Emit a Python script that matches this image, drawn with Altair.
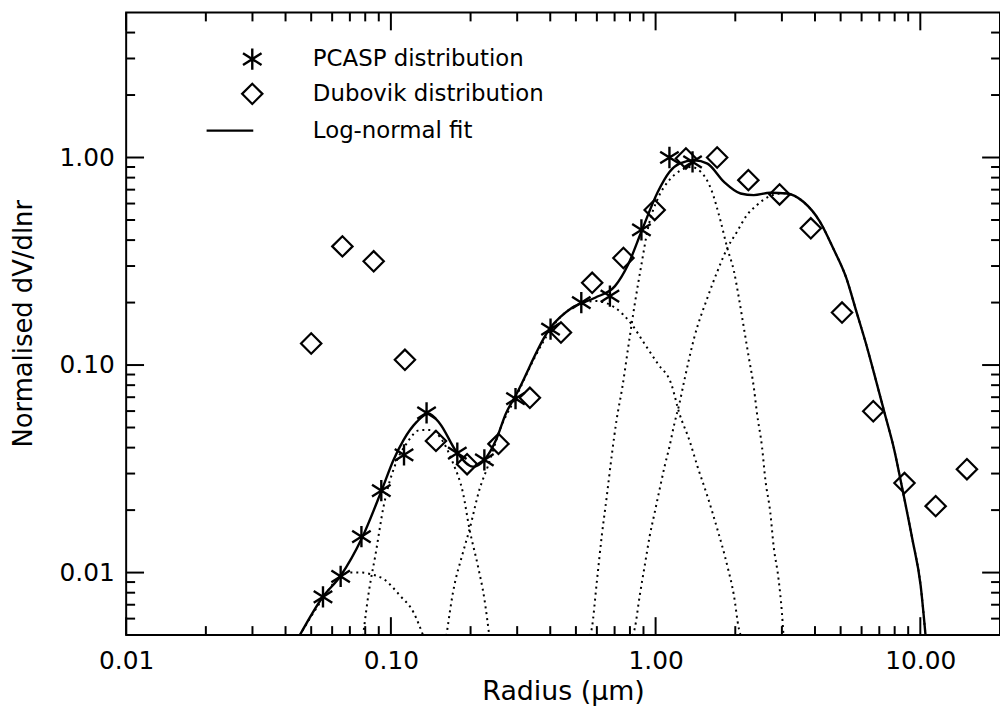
import altair as alt
import pandas as pd

# ---------------- data ----------------
pcasp_r = [0.0554, 0.0646, 0.0774, 0.0920, 0.1121, 0.1364, 0.1782, 0.2255, 0.2957,
           0.401, 0.524, 0.672, 0.884, 1.128, 1.379]
pcasp_v = [0.00764, 0.00959, 0.0149, 0.0248, 0.0369, 0.0588, 0.0376, 0.0349, 0.0689,
           0.149, 0.200, 0.215, 0.448, 1.0, 0.952]

dubovik_r = [0.050, 0.0656, 0.0861, 0.113, 0.148, 0.194, 0.255, 0.335, 0.439, 0.576, 0.756,
             0.992, 1.302, 1.708, 2.241, 2.940, 3.857, 5.061, 6.641, 8.713, 11.43, 15.0]
dubovik_v = [0.127, 0.373, 0.316, 0.106, 0.0431, 0.0333, 0.0417, 0.0695, 0.1435, 0.249, 0.328,
             0.559, 0.99, 1.0, 0.778, 0.664, 0.456, 0.179, 0.0599, 0.0270, 0.0209, 0.0315]

fit_r = [0.0451, 0.0552, 0.0646, 0.0779, 0.0925, 0.1023, 0.1116, 0.1252, 0.1384, 0.1530,
         0.1767, 0.2040, 0.2255, 0.2495, 0.2720, 0.2964, 0.401, 0.4833, 0.5908, 0.7023,
         0.7875, 0.884, 1.020, 1.128, 1.230, 1.400, 1.570, 1.813, 2.094, 2.349, 2.713,
         3.130, 3.615, 4.175, 4.682, 5.252, 5.725, 6.240, 6.800, 7.311, 7.973, 8.564,
         9.333, 10.03, 10.47]
fit_v = [0.00495, 0.00761, 0.00965, 0.01474, 0.0251, 0.0349, 0.0435, 0.0532, 0.0584, 0.0523,
         0.0383, 0.0324, 0.0349, 0.0435, 0.0584, 0.0715, 0.1517, 0.1890, 0.2111, 0.2401,
         0.3049, 0.440, 0.684, 0.852, 0.934, 0.970, 0.934, 0.763, 0.671, 0.659, 0.676,
         0.671, 0.612, 0.491, 0.366, 0.263, 0.1823, 0.1263, 0.0843, 0.0594, 0.0390, 0.0251,
         0.01446, 0.00865, 0.00495]

m1_r = [0.0451, 0.0552, 0.0628, 0.0704, 0.0779, 0.0836, 0.0939, 0.1083, 0.1216, 0.1326]
m1_v = [0.00495, 0.00747, 0.00931, 0.01002, 0.0100, 0.00984, 0.00931, 0.00774, 0.00645, 0.00495]

m2_r = [0.0785, 0.0825, 0.0873, 0.0939, 0.1038, 0.1148, 0.1288, 0.1404, 0.1530, 0.1717,
        0.1872, 0.1982, 0.2131, 0.2255, 0.2354]
m2_v = [0.00495, 0.00804, 0.01203, 0.0209, 0.0330, 0.0420, 0.0486, 0.0486, 0.0451, 0.0337,
        0.0242, 0.01615, 0.01078, 0.00747, 0.00495]

m3_r = [0.1621, 0.1717, 0.1872, 0.1982, 0.2160, 0.2322, 0.2604, 0.2964, 0.3522, 0.4184,
        0.4972, 0.5908, 0.7023, 0.811, 0.9095, 1.020, 1.145, 1.230, 1.341, 1.440, 1.570,
        1.712, 1.866, 1.977, 2.063, 2.099]
m3_v = [0.00495, 0.00804, 0.01249, 0.01615, 0.0251, 0.0324, 0.0502, 0.0699, 0.1110, 0.1598,
        0.1926, 0.2035, 0.1890, 0.1575, 0.1263, 0.1013, 0.0813, 0.0584, 0.0435, 0.0324,
        0.0233, 0.01615, 0.01078, 0.00774, 0.00537, 0.00495]

m4_r = [0.566, 0.574, 0.5995, 0.626, 0.654, 0.682, 0.712, 0.749, 0.788, 0.834, 0.884, 0.936,
        1.020, 1.112, 1.248, 1.361, 1.483, 1.617, 1.762, 1.866, 1.977, 2.063, 2.154, 2.249,
        2.349, 2.416, 2.523, 2.598, 2.713, 2.791, 2.914, 2.999, 3.042]
m4_v = [0.00495, 0.00537, 0.00898, 0.0150, 0.0233, 0.0362, 0.0543, 0.0783, 0.1217, 0.1963,
        0.3049, 0.456, 0.635, 0.763, 0.869, 0.901, 0.852, 0.709, 0.491, 0.366, 0.283,
        0.2111, 0.1517, 0.1090, 0.0783, 0.0584, 0.0404, 0.0280, 0.0194, 0.01343, 0.00931,
        0.00645, 0.00495]

m5_r = [0.820, 0.834, 0.871, 0.9095, 0.950, 0.9915, 1.035, 1.081, 1.128, 1.178, 1.230, 1.284,
        1.400, 1.570, 1.712, 1.866, 2.033, 2.216, 2.416, 2.673, 3.042, 3.615, 4.175, 4.682,
        5.252, 5.725, 6.240, 6.800, 7.311, 7.973, 8.564, 9.333, 10.03, 10.47]
m5_v = [0.00495, 0.00537, 0.00774, 0.01078, 0.0150, 0.0194, 0.0251, 0.0324, 0.0404, 0.0523,
        0.0652, 0.0843, 0.1358, 0.2111, 0.283, 0.366, 0.440, 0.529, 0.590, 0.647, 0.673,
        0.612, 0.491, 0.366, 0.263, 0.1823, 0.1263, 0.0843, 0.0594, 0.0390, 0.0251,
        0.01446, 0.00865, 0.00495]

x_label_values = [0.01, 0.1, 1, 10]
y_label_values = [0.01, 0.1, 1]
x_minor_ticks = [0.02, 0.03, 0.04, 0.05, 0.06, 0.07, 0.08, 0.09,
                 0.2, 0.3, 0.4, 0.5, 0.6, 0.7, 0.8, 0.9,
                 2, 3, 4, 5, 6, 7, 8, 9]
y_minor_ticks = [0.006, 0.007, 0.008, 0.009,
                 0.02, 0.03, 0.04, 0.05, 0.06, 0.07, 0.08, 0.09,
                 0.2, 0.3, 0.4, 0.5, 0.6, 0.7, 0.8, 0.9,
                 2, 3, 4]

legend_labels = ["PCASP distribution", "Dubovik distribution", "Log-normal fit"]
x_title = "Radius (\u03bcm)"
y_title = "Normalised dV/dlnr"

# ---------------- tables ----------------
pcasp = pd.DataFrame({"r": pcasp_r, "v": pcasp_v})
dubovik = pd.DataFrame({"r": dubovik_r, "v": dubovik_v})
fit = pd.DataFrame({"r": fit_r, "v": fit_v})
modes = pd.concat([
    pd.DataFrame({"r": rr, "v": vv, "mode": name})
    for name, rr, vv in [("m1", m1_r, m1_v), ("m2", m2_r, m2_v), ("m3", m3_r, m3_v),
                         ("m4", m4_r, m4_v), ("m5", m5_r, m5_v)]
])
xmaj = pd.DataFrame({"r": x_label_values})
xmin = pd.DataFrame({"r": x_minor_ticks})
ymaj = pd.DataFrame({"v": y_label_values})
ymin = pd.DataFrame({"v": y_minor_ticks})
one = pd.DataFrame({"k": [0]})

W, H = 880, 627
FONT = "DejaVu Sans"
MAJ, MIN = 18, 9

xscale = alt.Scale(type="log", domain=[0.01, 20], nice=False)
yscale = alt.Scale(type="log", domain=[0.005, 5], nice=False)

x_axis = alt.Axis(values=x_label_values, format=".2f", ticks=False, domain=False, grid=False,
                  labelFontSize=25, labelFont=FONT, labelColor="black", labelPadding=14,
                  labelFlush=False, labelOverlap=False,
                  title=x_title, titleFontSize=27, titleFont=FONT, titleFontWeight="normal",
                  titleColor="black", titleX=W / 2, titleY=65, titleAlign="center",
                  titleBaseline="alphabetic")
y_axis = alt.Axis(values=y_label_values, format=".2f", ticks=False, domain=False, grid=False,
                  labelFontSize=25, labelFont=FONT, labelColor="black", labelPadding=12,
                  labelOverlap=False,
                  title=y_title, titleFontSize=26, titleFont=FONT, titleFontWeight="normal",
                  titleColor="black", titleAngle=270, titleX=-95, titleY=313,
                  titleAlign="center", titleBaseline="alphabetic")

X = alt.X("r:Q", scale=xscale, axis=x_axis)
Y = alt.Y("v:Q", scale=yscale, axis=y_axis)

fit_line = alt.Chart(fit).mark_line(color="black", strokeWidth=2.4, clip=True,
                                    interpolate="monotone").encode(
    x=X, y=Y, order="r:Q",
)

mode_lines = alt.Chart(modes).mark_line(color="black", strokeWidth=2, strokeDash=[2, 4],
                                        clip=True, interpolate="monotone").encode(
    x=X, y=Y, detail="mode:N", order="r:Q",
)

ASTER = "M0,-1L0,1M-0.87,-0.55L0.87,0.55M-0.87,0.55L0.87,-0.55"

pcasp_pts = alt.Chart(pcasp).mark_point(shape=ASTER, size=460, strokeWidth=2.4, color="black",
                                        filled=False, opacity=1).encode(x=X, y=Y)

dub_pts = alt.Chart(dubovik).mark_point(shape="diamond", size=420, strokeWidth=2.2,
                                        color="black", filled=False, opacity=1).encode(x=X, y=Y)


def xticks(df, length):
    bottom = alt.Chart(df).mark_rule(color="black", strokeWidth=2).encode(
        x=X, y=alt.value(H), y2=alt.value(H - length))
    top = alt.Chart(df).mark_rule(color="black", strokeWidth=2).encode(
        x=X, y=alt.value(0), y2=alt.value(length))
    return [bottom, top]


def yticks(df, length):
    left = alt.Chart(df).mark_rule(color="black", strokeWidth=2).encode(
        y=Y, x=alt.value(0), x2=alt.value(length))
    right = alt.Chart(df).mark_rule(color="black", strokeWidth=2).encode(
        y=Y, x=alt.value(W), x2=alt.value(W - length))
    return [left, right]


ticks = xticks(xmaj, MAJ) + xticks(xmin, MIN) + yticks(ymaj, MAJ) + yticks(ymin, MIN)

# ---------------- legend (drawn inside the plot) ----------------
leg_sym_x = 127
leg_y = [47, 82, 119]
leg_text_x = 188

leg_aster = alt.Chart(one).mark_point(shape=ASTER, size=460, strokeWidth=2.4, color="black",
                                      filled=False, opacity=1).encode(
    x=alt.value(leg_sym_x), y=alt.value(leg_y[0]))
leg_diam = alt.Chart(one).mark_point(shape="diamond", size=420, strokeWidth=2.2, color="black",
                                     filled=False, opacity=1).encode(
    x=alt.value(leg_sym_x), y=alt.value(leg_y[1]))
leg_line = alt.Chart(one).mark_rule(color="black", strokeWidth=2.4).encode(
    x=alt.value(81), x2=alt.value(128), y=alt.value(leg_y[2]))

leg_texts = [
    alt.Chart(pd.DataFrame({"label": [lab]})).mark_text(
        align="left", baseline="middle", font=FONT, fontSize=23, color="black").encode(
        text="label:N", x=alt.value(leg_text_x), y=alt.value(yy))
    for lab, yy in zip(legend_labels, leg_y)
]

chart = alt.layer(
    fit_line, mode_lines, pcasp_pts, dub_pts, *ticks, leg_aster, leg_diam, leg_line, *leg_texts
).properties(
    width=W, height=H,
    autosize=alt.AutoSizeParams(type="none"),
    padding={"left": 119, "top": 2, "right": 0, "bottom": 74},
    background="white",
).configure_view(stroke="black", strokeWidth=2)

chart.save("out.html", embed_options={"renderer": "svg", "actions": False})
